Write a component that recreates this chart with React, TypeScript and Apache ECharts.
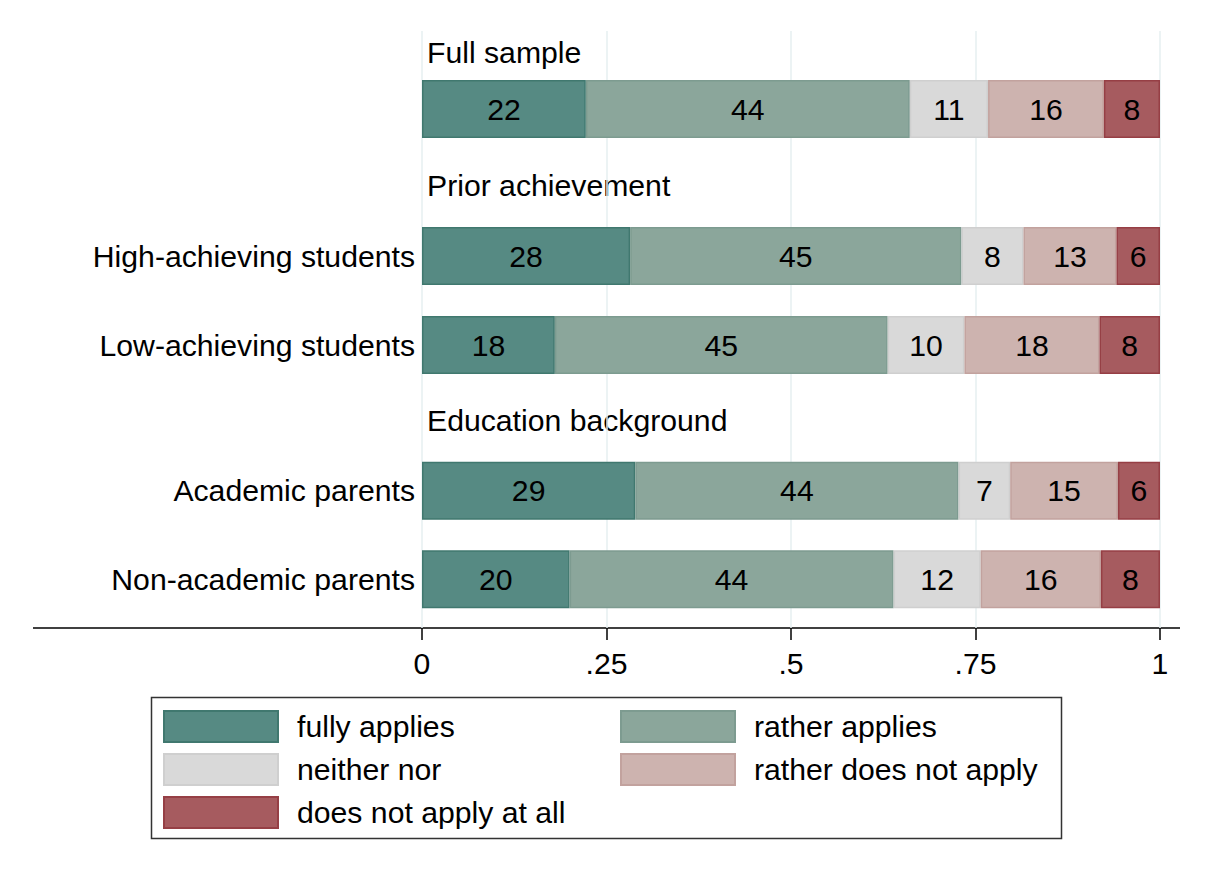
import React, { useEffect, useRef } from "react";
import * as echarts from "echarts";

// Rows (top to bottom)
const rowLabels = [
  "Full sample",
  "High-achieving students",
  "Low-achieving students",
  "Academic parents",
  "Non-academic parents",
];
// Group headings and which rows belong to each group
const groupTitles = ["Full sample", "Prior achievement", "Education background"];
const groupRows = [[0], [1, 2], [3, 4]];

// Shares in percent per response category (one value per row)
const categories = [
  "fully applies",
  "rather applies",
  "neither nor",
  "rather does not apply",
  "does not apply at all",
];
const fullyApplies = [22.2, 28.2, 18.0, 28.9, 20.0];
const ratherApplies = [43.9, 44.9, 45.1, 43.8, 43.9];
const neitherNor = [10.6, 8.4, 10.4, 7.0, 11.8];
const ratherNotApply = [15.7, 12.6, 18.3, 14.6, 16.3];
const notApplyAtAll = [7.6, 5.9, 8.2, 5.7, 8.0];
const seriesValues = [fullyApplies, ratherApplies, neitherNor, ratherNotApply, notApplyAtAll];

const xTicks = [0, 25, 50, 75, 100];
const xTickLabels = ["0", ".25", ".5", ".75", "1"];

const fills = ["#568a83", "#8ba69b", "#d9d9d9", "#cdb3af", "#a65b5f"];
const borders = ["#40786f", "#7d9b90", "#cfcfcf", "#c2a29e", "#963f45"];

const FONT = "'Liberation Sans', Arial, sans-serif";
const FS = 30.2;

export default function App() {
  const ref = useRef<HTMLDivElement>(null);
  useEffect(() => {
    document.body.style.margin = "0";
    if (!ref.current) return;
    const chart = echarts.init(ref.current, null, { renderer: "svg" });

    const plotLeft = 422;
    const plotRight = 50;
    const grids: any[] = [
      { left: plotLeft, right: plotRight, top: 31, height: 597 },
      { left: plotLeft, right: plotRight, top: 64.5, height: 89 },
      { left: plotLeft, right: plotRight, top: 211.5, height: 178 },
      { left: plotLeft, right: plotRight, top: 446.5, height: 177 },
    ];

    const xAxes: any[] = [
      {
        gridIndex: 0,
        type: "value",
        min: 0,
        max: 100,
        interval: 25,
        axisLine: { show: false },
        axisTick: { show: true, length: 12, lineStyle: { color: "#000", width: 1.5 } },
        axisLabel: {
          fontSize: FS,
          color: "#000",
          fontFamily: FONT,
          margin: 20,
          formatter: (v: number) => xTickLabels[xTicks.indexOf(v)] ?? "",
        },
        splitLine: { show: true, lineStyle: { color: "#e6eff1", width: 1.5 } },
      },
    ];
    const yAxes: any[] = [
      { gridIndex: 0, type: "value", show: false },
    ];
    groupRows.forEach((rows, gi) => {
      xAxes.push({
        gridIndex: gi + 1,
        type: "value",
        min: 0,
        max: 100,
        show: false,
        splitLine: { show: false },
      });
      yAxes.push({
        gridIndex: gi + 1,
        type: "category",
        inverse: true,
        data: rows.map((r) => rowLabels[r]),
        axisLine: { show: false },
        axisTick: { show: false },
        axisLabel: {
          show: gi !== 0,
          fontSize: FS,
          color: "#000",
          fontFamily: FONT,
          margin: 7,
        },
      });
    });

    const series: any[] = [];
    groupRows.forEach((rows, gi) => {
      categories.forEach((cat, ci) => {
        series.push({
          name: cat,
          type: "bar",
          xAxisIndex: gi + 1,
          yAxisIndex: gi + 1,
          stack: "g" + gi,
          barWidth: 58,
          data: rows.map((r) => seriesValues[ci][r]),
          itemStyle: { color: fills[ci], borderColor: borders[ci], borderWidth: 1.5 },
          label: {
            show: true,
            position: "inside",
            fontSize: FS,
            color: "#000",
            fontFamily: FONT,
            formatter: (p: any) => String(Math.round(p.value)),
          },
        });
      });
    });

    const legendCommon = {
      orient: "vertical",
      top: 710,
      padding: 0,
      itemWidth: 114,
      itemHeight: 31,
      itemGap: 10,
      icon: "rect",
      selectedMode: false,
      textStyle: {
        fontSize: FS,
        color: "#000",
        fontFamily: FONT,
        lineHeight: 31,
        padding: [0, 0, 0, 14],
      },
    };

    const headerY = [52, 185, 420];

    chart.setOption({
      animation: false,
      backgroundColor: "#fff",
      grid: grids,
      xAxis: xAxes,
      yAxis: yAxes,
      series,
      legend: [
        { ...legendCommon, left: 163, data: [categories[0], categories[2], categories[4]] },
        { ...legendCommon, left: 620, data: [categories[1], categories[3]] },
      ],
      graphic: [
        ...groupTitles.map((t, i) => ({
          type: "text",
          x: 427,
          y: headerY[i],
          style: {
            text: t,
            fontSize: FS,
            fontFamily: FONT,
            fill: "#000",
            textVerticalAlign: "middle",
            verticalAlign: "middle",
          },
        })),
        {
          type: "line",
          shape: { x1: 33, y1: 628, x2: 1180, y2: 628 },
          style: { stroke: "#000", lineWidth: 1.5 },
        },
        {
          type: "rect",
          shape: { x: 151.5, y: 697.5, width: 910, height: 141 },
          style: { fill: "none", stroke: "#333", lineWidth: 1.5 },
        },
      ],
    });
    return () => chart.dispose();
  }, []);
  return <div ref={ref} style={{ width: 1210, height: 877 }} />;
}
